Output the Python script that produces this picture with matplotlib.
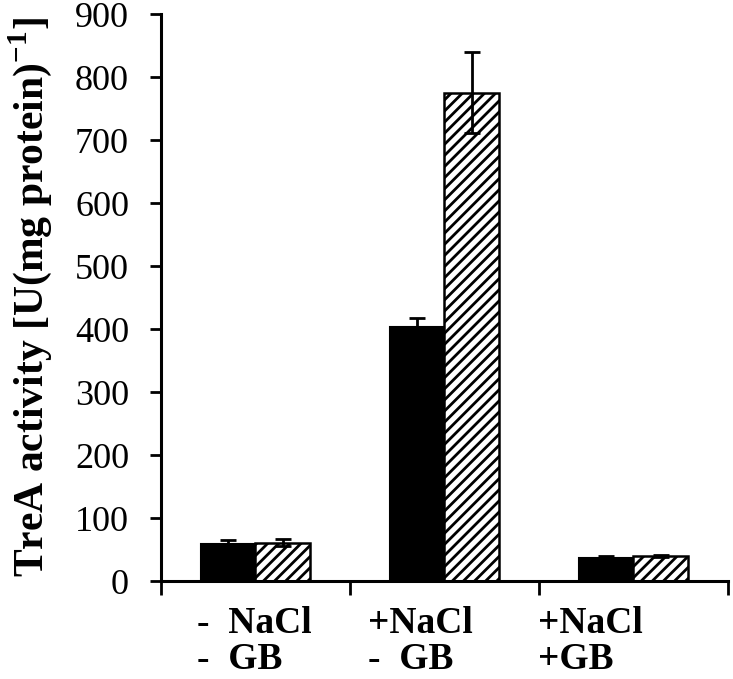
import numpy as np
import matplotlib
matplotlib.use("Agg")
import matplotlib.pyplot as plt

# data
groups = ["-  NaCl\n-  GB", "+NaCl\n-  GB", "+NaCl\n+GB"]
solid_vals = [58, 404, 36]
solid_err = [7, 14, 3]
hatch_vals = [61, 775, 40]
hatch_err = [6, 64, 2]
yticks = [0, 100, 200, 300, 400, 500, 600, 700, 800, 900]

plt.rcParams['font.family'] = ['Liberation Serif', 'DejaVu Serif']
plt.rcParams['hatch.linewidth'] = 2.0
plt.rcParams['hatch.color'] = '#222222'
plt.rcParams['mathtext.fontset'] = 'custom'
plt.rcParams['mathtext.rm'] = 'Liberation Serif'
plt.rcParams['mathtext.bf'] = 'Liberation Serif:bold'

fig = plt.figure(figsize=(7.33, 6.79), dpi=100)
ax = fig.add_axes([0.2196, 0.1443, 0.7735, 0.835])

x = np.arange(len(groups))
w = 0.29
ax.bar(x - w / 2, solid_vals, w, color='black', edgecolor='black', linewidth=1.5,
       yerr=solid_err, error_kw=dict(ecolor='black', elinewidth=2, capsize=6, capthick=2))
ax.bar(x + w / 2, hatch_vals, w, color='white', edgecolor='black', linewidth=1.8,
       hatch='///', yerr=hatch_err,
       error_kw=dict(ecolor='black', elinewidth=2, capsize=6, capthick=2))

ax.set_xlim(-0.5, 2.5)
ax.set_ylim(0, 900)
ax.set_yticks(yticks)
ax.set_xticks([-0.5, 0.5, 1.5, 2.5])
ax.set_xticklabels([])
ax.tick_params(axis='y', labelsize=26, length=8, width=2, direction='out', pad=15)
ax.tick_params(axis='x', length=10, width=2, direction='out')
for s in ['top', 'right']:
    ax.spines[s].set_visible(False)
for s in ['left', 'bottom']:
    ax.spines[s].set_linewidth(2.2)

ax.set_ylabel(r'TreA activity [U(mg protein)$^{\mathbf{-1}}$]', fontsize=30,
              fontweight='bold', labelpad=15)

# category labels below the axis, one text per line
label_x = [-0.31, 0.595, 1.495]
line_y = [-0.0917, -0.155]
for lx, txt in zip(label_x, groups):
    for ly, line in zip(line_y, txt.split('\n')):
        ax.text(lx, ly, line, transform=ax.get_xaxis_transform(), ha='left',
                va='baseline', fontsize=27, fontweight='bold')

fig.savefig("out.png", dpi=100)
